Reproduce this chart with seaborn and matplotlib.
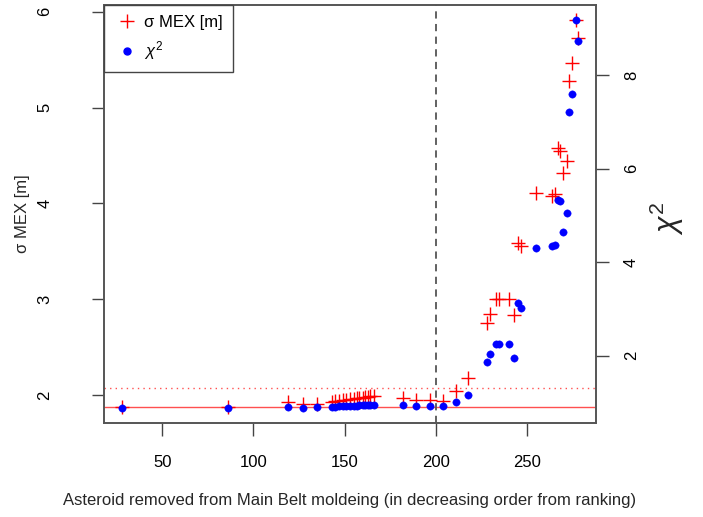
import matplotlib
matplotlib.use("Agg")
import matplotlib.pyplot as plt
from matplotlib.lines import Line2D
import seaborn as sns
import pandas as pd

# ---- data ----
rank = [28, 86, 119, 127, 135,
        143, 145, 147, 149, 151, 153, 155, 157, 158, 160, 161, 163, 164, 166,
        182, 189, 197, 204, 211, 218, 228, 230, 233, 235, 240, 243, 245, 247,
        255, 264, 265.5, 267, 268, 270, 272, 273, 275, 277, 278]
sigma_mex = [1.875, 1.88, 1.93, 1.91, 1.91,
             1.93, 1.94, 1.94, 1.95, 1.95, 1.96, 1.96, 1.97, 1.97, 1.97, 1.98, 1.98, 1.99, 1.99,
             1.97, 1.95, 1.95, 1.94, 2.04, 2.18, 2.75, 2.85, 3.00, 3.00, 3.00, 2.84, 3.59, 3.56,
             4.11, 4.08, 4.10, 4.58, 4.55, 4.32, 4.44, 5.28, 5.46, 5.91, 5.73]
chi2 = [0.89, 0.89, 0.90, 0.89, 0.90,
        0.91, 0.91, 0.92, 0.92, 0.92, 0.93, 0.93, 0.93, 0.94, 0.94, 0.94, 0.95, 0.95, 0.95,
        0.94, 0.93, 0.92, 0.92, 1.01, 1.16, 1.86, 2.04, 2.25, 2.25, 2.26, 1.95, 3.12, 3.03,
        4.31, 4.34, 4.37, 5.33, 5.30, 4.65, 5.05, 7.21, 7.60, 9.17, 8.73]
ref_solid = 1.872
ref_dotted = 2.075
cut_rank = 200
x_ticks = [50, 100, 150, 200, 250]
y_ticks = [2, 3, 4, 5, 6]
chi_ticks = [2, 4, 6, 8]

df = pd.DataFrame({"rank": rank, "sigma": sigma_mex, "chi2": chi2})

sns.set_style("white")
plt.rcParams["font.family"] = ["Liberation Sans", "DejaVu Sans"]
plt.rcParams["mathtext.fontset"] = "custom"
plt.rcParams["mathtext.rm"] = "Liberation Sans"
plt.rcParams["mathtext.it"] = "Liberation Sans:italic"
plt.rcParams["text.color"] = "black"
plt.rcParams["xtick.color"] = "black"
plt.rcParams["ytick.color"] = "black"

W, H = 703, 517
fig = plt.figure(figsize=(W / 100, H / 100), dpi=100)
ax = fig.add_axes([104 / W, 94 / H, 492 / W, 418 / H])
ax2 = ax.twinx()

sns.scatterplot(data=df, x="rank", y="sigma", marker="+", color="red", s=90,
                linewidth=1.0, ax=ax, legend=False, zorder=3)
sns.scatterplot(data=df, x="rank", y="chi2", marker="o", color="blue", s=28,
                edgecolor="blue", linewidth=0.3, ax=ax2, legend=False, zorder=4)

ax.axhline(ref_solid, color="#ff5050", lw=1.0, zorder=2)
ax.axhline(ref_dotted, color="#ff5050", lw=1.0, ls=(0, (1, 3)), zorder=2)
ax.axvline(cut_rank, color="#555555", lw=1.3, ls=(0, (4, 3)), zorder=2)

ax.set_xlim(18, 288)
ax.set_ylim(1.71, 6.07)
ax2.set_ylim(0.56, 9.5)

ax.set_xticks(x_ticks)
ax.set_yticks(y_ticks)
ax2.set_yticks(chi_ticks)

for a in (ax, ax2):
    for sp in a.spines.values():
        sp.set_color("#555555")
        sp.set_linewidth(1.2)

ax.tick_params(axis="x", direction="out", length=9, width=1, color="#444444",
               labelsize=12, pad=14, bottom=True)
ax.tick_params(axis="y", direction="out", length=9, width=1, color="#444444",
               labelsize=12, pad=28, left=True)
ax2.tick_params(axis="y", direction="out", length=9, width=1, color="#444444",
                labelsize=12, pad=11, right=True)
for lab in ax.get_yticklabels():
    lab.set_rotation(90)
    lab.set_va("center")
for lab in ax2.get_yticklabels():
    lab.set_rotation(90)
    lab.set_va("center")

ax.set_xlabel("Asteroid removed from Main Belt moldeing (in decreasing order from ranking)",
              fontsize=12)
ax.set_ylabel("σ MEX [m]", fontsize=12)
ax2.set_ylabel(r"$\chi^2$", fontsize=22, rotation=90)
ax.xaxis.set_label_coords(0.5, (17 - 94) / 418)
ax.xaxis.label.set_va("center")
ax.yaxis.set_label_coords((23 - 104) / 492, 0.5)
ax.yaxis.label.set_va("center")
ax2.yaxis.set_label_coords((667 - 104) / 492, 0.49)
ax2.yaxis.label.set_va("center")

handles = [Line2D([], [], marker="+", color="red", ls="none", markersize=10, mew=1.0),
           Line2D([], [], marker="o", color="blue", ls="none", markersize=5)]
leg = ax2.legend(handles, ["σ MEX [m]", r"$\chi^2$"], loc="upper left",
                 bbox_to_anchor=(0, 1), borderaxespad=0, fontsize=12,
                 fancybox=False, framealpha=1, edgecolor="#444444",
                 handletextpad=0.3, handlelength=1.5, labelspacing=0.55, borderpad=0.6)
leg.get_frame().set_linewidth(1.0)

fig.savefig("out.png", dpi=100)
